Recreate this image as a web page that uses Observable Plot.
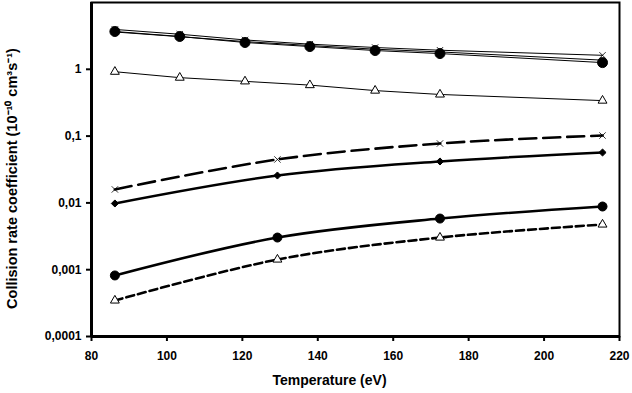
<!DOCTYPE html>
<html>
<head>
<meta charset="utf-8">
<script src="https://cdn.jsdelivr.net/npm/d3@7"></script>
<script src="https://cdn.jsdelivr.net/npm/@observablehq/plot@0.6"></script>
<style>
  html, body { margin: 0; padding: 0; background: #fff; }
  #chart svg { display: block; }
</style>
</head>
<body>
<div id="chart"></div>
<script>
// Temperatures (eV)
const tempsHigh = [86.2, 103.4, 120.7, 137.9, 155.2, 172.4, 215.5];
const tempsLow = [86.2, 129.3, 172.4, 215.5];

// Upper group (thin lines)
const crossHigh   = [3.95, 3.35, 2.75, 2.38, 2.12, 1.93, 1.62];
const plainHigh   = [3.62, 3.08, 2.60, 2.27, 2.00, 1.82, 1.37];
const circleHigh  = [3.68, 3.10, 2.52, 2.19, 1.91, 1.72, 1.26];
const triHigh     = [0.92, 0.75, 0.66, 0.58, 0.48, 0.42, 0.34];

// Lower group (thick lines)
const crossLow    = [0.0159, 0.0447, 0.0775, 0.102];
const diamondLow  = [0.0098, 0.0257, 0.0417, 0.0568];
const circleLow   = [0.00082, 0.00303, 0.00583, 0.00883];
const triLow      = [0.000346, 0.00142, 0.00303, 0.00475];

// Axis ticks
const xTicks = [80, 100, 120, 140, 160, 180, 200, 220];
const yTicks = [0.0001, 0.001, 0.01, 0.1, 1];
const yTickLabels = ["0,0001", "0,001", "0,01", "0,1", "1"];

const toRows = (xs, ys) => xs.map((x, i) => ({x, y: ys[i]}));

const font = "'Liberation Sans', Arial, sans-serif";

const lineMarks = [];
function addSeries(xs, ys, opts) {
  const rows = toRows(xs, ys);
  lineMarks.push(Plot.line(rows, {
    x: "x", y: "y",
    stroke: "black",
    strokeWidth: opts.sw,
    strokeDasharray: opts.dash,
    curve: opts.curve || "catmull-rom"
  }));
  if (opts.symbol) {
    lineMarks.push(Plot.dot(rows, {
      x: "x", y: "y",
      symbol: opts.symbol,
      r: opts.r,
      fill: opts.fill,
      stroke: "black",
      strokeWidth: opts.msw || 1
    }));
  }
}

addSeries(tempsHigh, crossHigh,  {sw: 1, symbol: "times", r: 3, fill: "none", msw: 0.8, curve: "linear"});
addSeries(tempsHigh, plainHigh,  {sw: 1, curve: "linear"});
addSeries(tempsHigh, circleHigh, {sw: 1, symbol: "circle", r: 5, fill: "black", curve: "linear"});
addSeries(tempsHigh, triHigh,    {sw: 1, symbol: "triangle", r: 3.3, fill: "white", curve: "linear"});

addSeries(tempsLow, crossLow,   {sw: 2.6, dash: "17,7", symbol: "times", r: 3, fill: "none", msw: 0.8});
addSeries(tempsLow, diamondLow, {sw: 2.6, symbol: "diamond2", r: 3.2, fill: "black"});
addSeries(tempsLow, circleLow,  {sw: 2.6, symbol: "circle", r: 4.5, fill: "black"});
addSeries(tempsLow, triLow,     {sw: 2.6, dash: "8,4", symbol: "triangle", r: 3.3, fill: "white"});

const chart = Plot.plot({
  width: 632,
  height: 393,
  marginLeft: 91,
  marginRight: 13,
  marginTop: 2,
  marginBottom: 57,
  style: {fontFamily: font, fontSize: "12px", fontWeight: "bold", color: "black", background: "white"},
  x: {domain: [80, 220]},
  y: {type: "log", domain: [0.0001, 10]},
  marks: [
    ...lineMarks,
    Plot.frame({stroke: "black", strokeWidth: 2}),
    Plot.ruleX([80], {stroke: "black", strokeWidth: 3}),
    Plot.ruleY([0.0001], {stroke: "black", strokeWidth: 3}),
    Plot.axisX({
      ticks: xTicks, tickSize: 5, tickPadding: 10, tickFormat: d => String(d),
      strokeWidth: 2, fontSize: 12, fontWeight: "bold",
      label: null
    }),
    Plot.axisY({
      ticks: yTicks, tickSize: 5, tickPadding: 5,
      tickFormat: d => yTickLabels[yTicks.indexOf(d)],
      strokeWidth: 2, fontSize: 12, fontWeight: "bold",
      label: null
    }),
    Plot.text(["Temperature (eV)"], {
      frameAnchor: "bottom", textAnchor: "middle", dx: -26, dy: 48,
      fontSize: 14, fontWeight: "bold", fill: "black", text: d => d
    }),
    Plot.text(["Collision rate coefficient (10⁻¹⁰ cm³s⁻¹)"], {
      frameAnchor: "left", textAnchor: "middle", dx: -79, dy: 9, rotate: -90,
      fontSize: 14.5, fontWeight: "bold", fill: "black", text: d => d
    })
  ]
});
document.getElementById("chart").appendChild(chart);
</script>
</body>
</html>
